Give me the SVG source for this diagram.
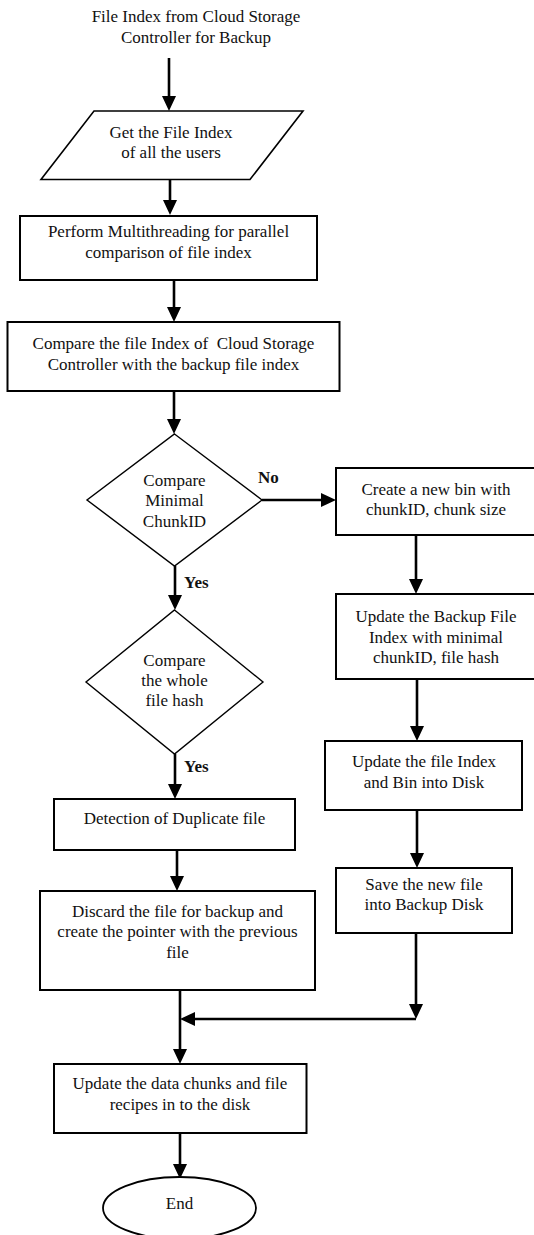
<svg xmlns="http://www.w3.org/2000/svg" width="534" height="1235" viewBox="0 0 534 1235">
  <style>
    text { font-family: "Liberation Serif", "Times New Roman", serif; font-size: 17px; fill: #111; text-anchor: middle; }
    .lbl { font-weight: bold; text-anchor: start; }
    .box { fill: #fff; stroke: #000; stroke-width: 2; }
    .dia { fill: #fff; stroke: #000; stroke-width: 1.4; }
    .conn { fill: none; stroke: #000; stroke-width: 2.6; }
  </style>
  <defs>
    <marker id="arrow" viewBox="0 0 15 14" refX="5" refY="7" markerWidth="15" markerHeight="14" markerUnits="userSpaceOnUse" orient="auto">
      <path d="M0,0 L15,7 L0,14 z" fill="#000"/>
    </marker>
  </defs>

  <!-- start label -->
  <g id="start">
    <text x="196" y="22">File Index from Cloud Storage</text>
    <text x="196" y="43">Controller for Backup</text>
  </g>

  <!-- connectors -->
  <g id="connectors" class="conn">
    <line x1="169" y1="58" x2="169" y2="101" marker-end="url(#arrow)"/>
    <line x1="170" y1="180" x2="170" y2="205" marker-end="url(#arrow)"/>
    <line x1="174" y1="280" x2="174" y2="312" marker-end="url(#arrow)"/>
    <line x1="174" y1="391" x2="174" y2="424" marker-end="url(#arrow)"/>
    <line x1="262" y1="500" x2="326" y2="500" marker-end="url(#arrow)"/>
    <line x1="175" y1="566" x2="175" y2="600" marker-end="url(#arrow)"/>
    <line x1="175" y1="754" x2="175" y2="789" marker-end="url(#arrow)"/>
    <line x1="177" y1="850" x2="177" y2="881" marker-end="url(#arrow)"/>
    <line x1="180" y1="990" x2="180" y2="1054" marker-end="url(#arrow)"/>
    <line x1="416" y1="535" x2="416" y2="584" marker-end="url(#arrow)"/>
    <line x1="417" y1="679" x2="417" y2="731" marker-end="url(#arrow)"/>
    <line x1="417" y1="810" x2="417" y2="858" marker-end="url(#arrow)"/>
    <line x1="416" y1="933" x2="416" y2="1009" marker-end="url(#arrow)"/>
    <line x1="416" y1="1019" x2="190" y2="1019" marker-end="url(#arrow)"/>
    <line x1="180" y1="1133" x2="180" y2="1169" marker-end="url(#arrow)"/>
  </g>

  <!-- branch labels -->
  <g id="labels">
    <text class="lbl" x="258" y="483">No</text>
    <text class="lbl" x="184" y="588">Yes</text>
    <text class="lbl" x="184" y="772">Yes</text>
  </g>

  <g id="get-index">
    <polygon points="94,111 303,111 250,179.5 41,179.5" fill="#fff" stroke="#000" stroke-width="1.6"/>
    <text x="171" y="138">Get the File Index</text>
    <text x="171" y="158">of all the users</text>
  </g>

  <g id="multithreading">
    <rect class="box" x="20" y="216" width="297" height="64"/>
    <text x="168.5" y="237">Perform Multithreading for parallel</text>
    <text x="168.5" y="257.5">comparison of file index</text>
  </g>

  <g id="compare-index">
    <rect class="box" x="7.5" y="322" width="332" height="69"/>
    <text x="173.5" y="349" xml:space="preserve">Compare the file Index of  Cloud Storage</text>
    <text x="173.5" y="370">Controller with the backup file index</text>
  </g>

  <g id="compare-chunk">
    <polygon class="dia" points="174.5,434 262,500 174.5,566 87,500"/>
    <text x="174.5" y="486">Compare</text>
    <text x="174.5" y="506">Minimal</text>
    <text x="174.5" y="527">ChunkID</text>
  </g>

  <g id="compare-hash">
    <polygon class="dia" points="174.5,610 263,682 174.5,754 86,682"/>
    <text x="174.5" y="666">Compare</text>
    <text x="174.5" y="686">the whole</text>
    <text x="174.5" y="706">file hash</text>
  </g>

  <g id="new-bin">
    <rect class="box" x="336" y="468" width="200" height="67"/>
    <text x="436" y="494.5">Create a new bin with</text>
    <text x="436" y="515">chunkID, chunk size</text>
  </g>

  <g id="update-backup-index">
    <rect class="box" x="336" y="594" width="200" height="85"/>
    <text x="436" y="622">Update the Backup File</text>
    <text x="436" y="643">Index with minimal</text>
    <text x="436" y="663">chunkID, file hash</text>
  </g>

  <g id="update-index-bin">
    <rect class="box" x="325" y="741" width="197" height="69"/>
    <text x="424" y="767">Update the file Index</text>
    <text x="424" y="788">and Bin into Disk</text>
  </g>

  <g id="save-file">
    <rect class="box" x="336" y="868" width="176" height="65"/>
    <text x="424" y="890">Save the new file</text>
    <text x="424" y="910">into Backup Disk</text>
  </g>

  <g id="duplicate">
    <rect class="box" x="54" y="799" width="241" height="51"/>
    <text x="174.5" y="823.5">Detection of Duplicate file</text>
  </g>

  <g id="discard">
    <rect class="box" x="40" y="891" width="275" height="99"/>
    <text x="177.5" y="917">Discard the file for backup and</text>
    <text x="177.5" y="937">create the pointer with the previous</text>
    <text x="177.5" y="958">file</text>
  </g>

  <g id="update-chunks">
    <rect class="box" x="54" y="1064" width="252.5" height="69"/>
    <text x="180" y="1089">Update the data chunks and file</text>
    <text x="180" y="1110">recipes in to the disk</text>
  </g>

  <g id="end">
    <ellipse cx="179.5" cy="1208" rx="76.5" ry="31" fill="#fff" stroke="#000" stroke-width="1.8"/>
    <text x="179.5" y="1209">End</text>
  </g>
</svg>
